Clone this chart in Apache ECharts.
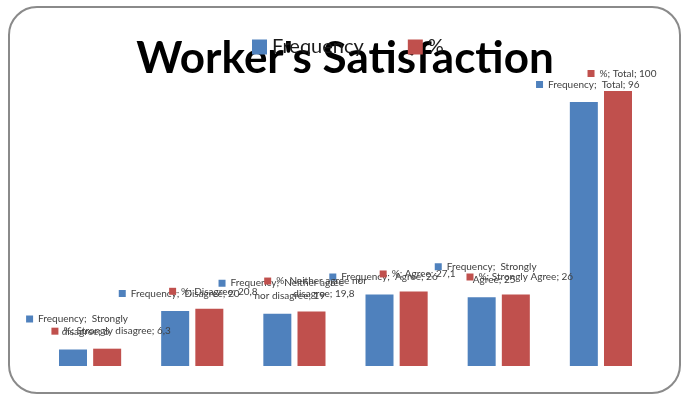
<!DOCTYPE html>
<html>
<head>
<meta charset="utf-8">
<script src="https://cdn.jsdelivr.net/npm/echarts@6/dist/echarts.min.js"></script>
<style>
  html, body { margin: 0; padding: 0; background: #fff; }
  #chart { width: 681px; height: 394px; }
</style>
</head>
<body>
<div id="chart"></div>
<script>
// Survey answers and the two measures shown for each answer
const categories = ['Strongly disagree', 'Disagree', 'Neither agree nor disagree', 'Agree', 'Strongly Agree', 'Total'];
const frequency = [6, 20, 19, 26, 25, 96];
const percent = [6.3, 20.8, 19.8, 27.1, 26, 100];
const seriesNames = ['Frequency', '%'];

const BLUE = '#4F81BD';
const RED = '#C0504D';
const FONT = 'Lato';

// Greedy word wrap, at most maxChars characters per line
function wrap(text, maxChars) {
  const words = text.split(/(?<=\S) (?=\S)/);
  const lines = [];
  let cur = '';
  words.forEach(w => {
    const next = cur ? cur + ' ' + w : w;
    if (cur && next.length > maxChars) { lines.push(cur); cur = w; }
    else cur = next;
  });
  if (cur) lines.push(cur);
  return lines;
}

function fmt(v) { return String(v).replace('.', ','); }

// Each label: a colour key, then the wrapped text; the leading spacers push
// the text block a little to the right of the bar centre.
function labelFor(sep) {
  return function (p) {
    const text = p.seriesName + ';' + sep + p.name + '; ' + fmt(p.value);
    const lines = wrap(text, 25);
    let out = '{l|}{m|}{t|' + lines[0] + '}{s|}';
    for (let i = 1; i < lines.length; i++) out += '\n{l|}{t|' + lines[i] + '}';
    return out;
  };
}

function labelStyle(color, sep) {
  return {
    show: true,
    position: 'top',
    distance: 11,
    formatter: labelFor(sep),
    rich: {
      l: { width: 20, height: 7, lineHeight: 13 },
      m: { width: 7, height: 7, backgroundColor: color, lineHeight: 13 },
      s: { width: 12, height: 7, lineHeight: 13 },
      t: { fontFamily: FONT, fontSize: 10, color: '#404040', lineHeight: 13, padding: [0, 0, 0, 5] }
    }
  };
}

const chart = echarts.init(document.getElementById('chart'), null, { renderer: 'canvas' });

chart.setOption({
  animation: false,
  backgroundColor: '#ffffff',
  grid: { left: 39, right: 29, top: 91, bottom: 28 },
  xAxis: {
    type: 'category',
    data: categories,
    show: false
  },
  yAxis: {
    type: 'value',
    min: 0,
    max: 100,
    show: false
  },
  legend: {
    data: seriesNames,
    left: 247,
    top: 32,
    itemWidth: 15,
    itemHeight: 15,
    itemGap: 44,
    icon: 'rect',
    textStyle: { fontFamily: FONT, fontSize: 20, color: '#1a1a1a' },
    z: 20
  },
  graphic: [
    {
      type: 'rect',
      z: -10,
      shape: { x: 9, y: 7, width: 671, height: 386, r: 28 },
      style: { fill: 'none', stroke: '#8a8a8a', lineWidth: 2 }
    },
    {
      type: 'text',
      z: 5,
      style: {
        text: "Worker's Satisfaction",
        x: 345,
        y: 59,
        align: 'center',
        verticalAlign: 'middle',
        font: 'bold 44px ' + FONT,
        fill: '#000000'
      }
    }
  ],
  series: [
    {
      name: seriesNames[0],
      type: 'bar',
      data: frequency,
      barWidth: 28,
      barGap: '22%',
      itemStyle: { color: BLUE },
      label: labelStyle(BLUE, '  '),
      z: 3
    },
    {
      name: seriesNames[1],
      type: 'bar',
      data: percent,
      barWidth: 28,
      barGap: '22%',
      itemStyle: { color: RED },
      label: labelStyle(RED, ' '),
      z: 3
    }
  ]
});
</script>
</body>
</html>
